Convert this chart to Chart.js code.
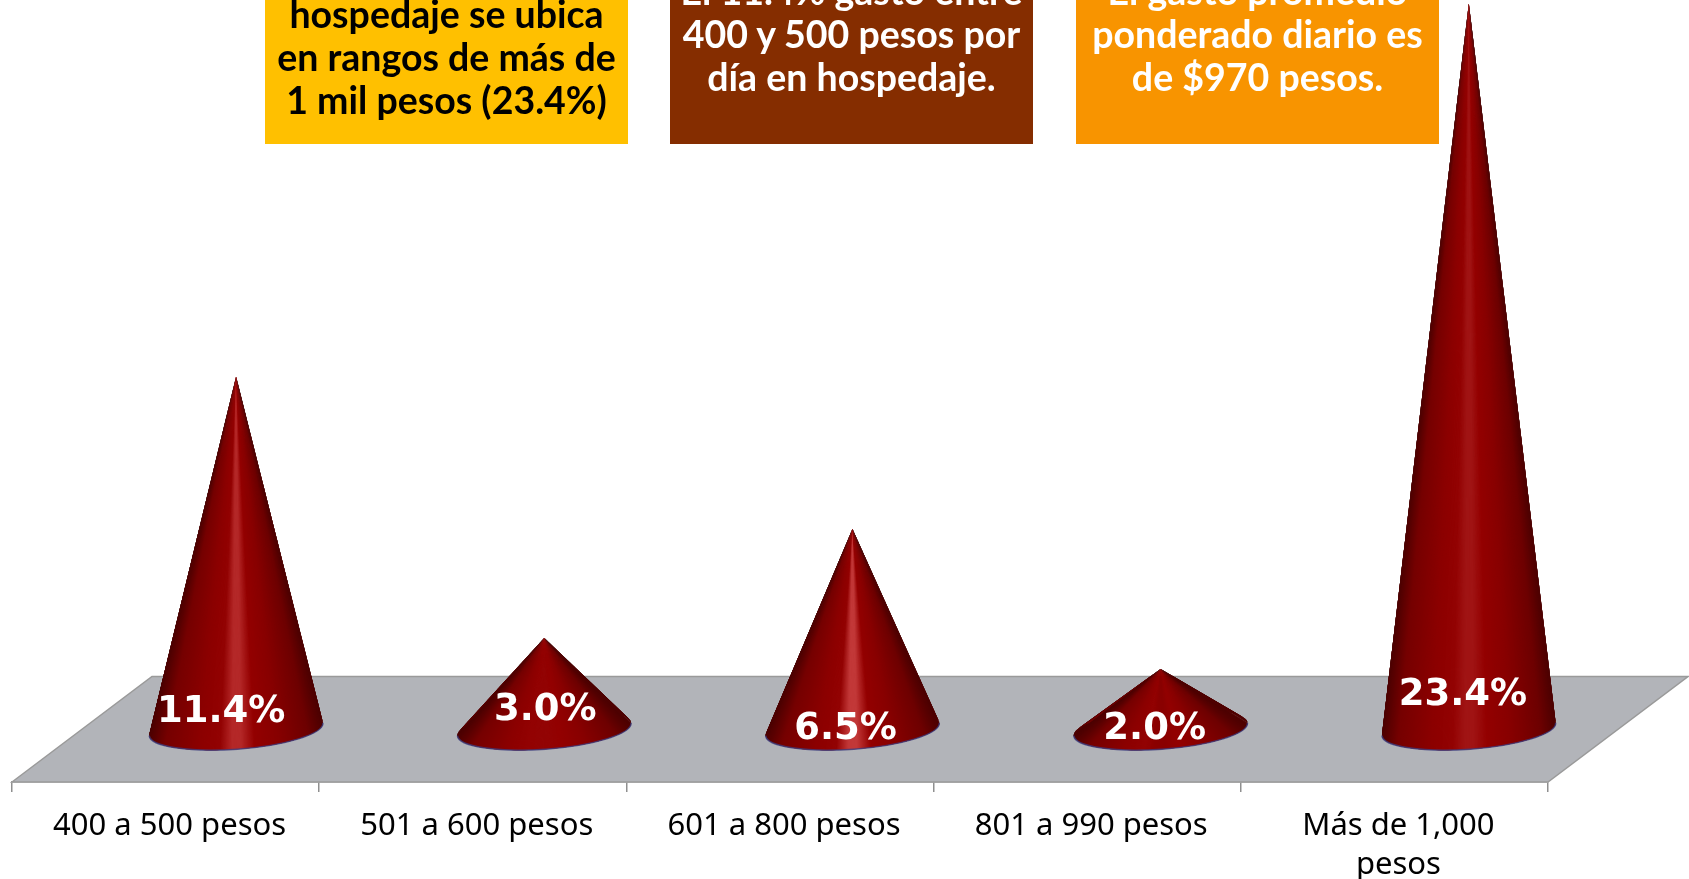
<!DOCTYPE html>
<html>
<head>
<meta charset="utf-8">
<script src="https://cdn.jsdelivr.net/npm/chart.js@4"></script>
<style>
  html, body { margin: 0; padding: 0; background: #fff; overflow: hidden; }
  #wrap { position: relative; width: 1689px; height: 879px; overflow: hidden; }
  canvas { position: absolute; left: 0; top: 0; }
  .note {
    position: absolute; width: 363px;
    font: bold 37.5px/43px Lato, sans-serif; text-align: center; white-space: nowrap;
  }
  .note span { display: block; }
</style>
</head>
<body>
<div id="wrap">
  <canvas id="chart" width="1689" height="879"></canvas>
  <div class="note" style="left:265px;background:#FFC000;color:#000;top:-8px;height:152px"><span>hospedaje se ubica</span><span>en rangos de más de</span><span>1 mil pesos (23.4%)</span></div>
  <div class="note" style="left:670px;background:#852D00;color:#fff;top:-31px;height:175px"><span>El 11.4% gasto entre</span><span>400 y 500 pesos por</span><span>día en hospedaje.</span></div>
  <div class="note" style="left:1076px;background:#F89400;color:#fff;top:-31px;height:175px"><span>El gasto promedio</span><span>ponderado diario es</span><span>de $970 pesos.</span></div>
</div>
<script>
const categories = ['400 a 500 pesos', '501 a 600 pesos', '601 a 800 pesos', '801 a 990 pesos', ['Más de 1,000', 'pesos']];
const percentValues = [11.4, 3.0, 6.5, 2.0, 23.4];

// floor depth of the fake 3D plane
const depthX = 140;
const depthY = 105.5;
const tilt = -4.2 * Math.PI / 180;
const baseRy = 20;
const apexDrop = 2;
// cones sit a bit wider apart than the ticks, the original has some perspective
const spread = 1.0032;
// how strong the shine on each cone is
const shine = ['#b42828', '#930404', '#c23838', '#8a0000', '#a01414'];
// nudge for the value labels, they are not centred in the original
const labelNudgeX = [-15, 1, -7, -6, -6];
const labelNudgeY = [-17, -19, 0, 0, -34];

function hexToRgb(hex) {
  return [1, 3, 5].map(i => parseInt(hex.slice(i, i + 2), 16));
}

function coneColor(u, shineHex) {
  const stops = [
    [0, '#4c0000'], [0.1, '#760000'], [0.3, '#8c0000'], [0.42, '#930303'],
    [0.49, shineHex], [0.54, shineHex], [0.62, '#930000'], [0.75, '#880000'], [0.92, '#6e0000'], [1, '#4e0000']
  ];
  let k = 0;
  while (k < stops.length - 2 && u > stops[k + 1][0]) k++;
  const a = stops[k], b = stops[k + 1];
  const f = Math.min(1, Math.max(0, (u - a[0]) / (b[0] - a[0])));
  const ca = hexToRgb(a[1]), cb = hexToRgb(b[1]);
  return 'rgb(' + ca.map((v, i) => Math.round(v + (cb[i] - v) * f)).join(',') + ')';
}

function drawCone(ctx, apexX, apexY, cx, cy, rx, shineHex) {
  const pt = t => [
    cx + rx * Math.cos(t) * Math.cos(tilt) - baseRy * Math.sin(t) * Math.sin(tilt),
    cy + rx * Math.cos(t) * Math.sin(tilt) + baseRy * Math.sin(t) * Math.cos(tilt)
  ];
  const steps = 240;
  const step = Math.PI / steps;
  // back half first, then the front half left to right. Each slice overlaps the last so no seams show
  for (let pass = 0; pass < 2; pass++) {
    for (let i = 0; i < steps; i++) {
      const t0 = pass === 0 ? -Math.PI + i * step : Math.PI - i * step;
      const t1 = pass === 0 ? t0 + step : t0 - step;
      const back = pass === 0 ? t0 - 2 * step : t0 + 2 * step;
      const p0 = pt(back), p1 = pt(t1);
      const mid = pt((t0 + t1) / 2);
      ctx.fillStyle = coneColor((mid[0] - (cx - rx)) / (2 * rx), shineHex);
      ctx.beginPath();
      ctx.moveTo(apexX, apexY);
      ctx.lineTo(p0[0], p0[1]);
      ctx.lineTo(p1[0], p1[1]);
      ctx.closePath();
      ctx.fill();
    }
  }
  // thin bluish rim along the front of the base
  ctx.beginPath();
  ctx.ellipse(cx, cy, rx, baseRy, tilt, 0, Math.PI);
  ctx.strokeStyle = 'rgba(60,60,125,0.8)';
  ctx.lineWidth = 1.5;
  ctx.stroke();
}

const floorPlugin = {
  id: 'floor',
  beforeDatasetsDraw(chart) {
    const ctx = chart.ctx, a = chart.chartArea;
    ctx.save();
    ctx.beginPath();
    ctx.moveTo(a.left, a.bottom);
    ctx.lineTo(a.left + depthX, a.bottom - depthY);
    ctx.lineTo(a.right + depthX, a.bottom - depthY);
    ctx.lineTo(a.right, a.bottom);
    ctx.closePath();
    ctx.fillStyle = '#b2b4b9';
    ctx.fill();
    ctx.strokeStyle = '#9a9a9a';
    ctx.lineWidth = 1.5;
    ctx.stroke();
    ctx.restore();
  }
};

const conePlugin = {
  id: 'cones',
  afterDatasetsDraw(chart) {
    const ctx = chart.ctx;
    const left = chart.chartArea.left;
    const bars = chart.getDatasetMeta(0).data;
    const coneX = x => left + (x - left) * spread + depthX / 2;
    ctx.save();
    bars.forEach((bar, i) => {
      const p = bar.getProps(['x', 'y', 'base', 'width'], true);
      const cx = coneX(p.x);
      drawCone(ctx, cx, p.y - depthY / 2 + apexDrop, cx, p.base - depthY / 2, p.width / 2, shine[i]);
    });
    ctx.fillStyle = '#fff';
    ctx.font = 'bold 37px "DejaVu Sans"';
    ctx.textAlign = 'center';
    ctx.textBaseline = 'middle';
    bars.forEach((bar, i) => {
      const p = bar.getProps(['x', 'base'], true);
      ctx.fillText(percentValues[i].toFixed(1) + '%', coneX(p.x) + labelNudgeX[i], p.base - depthY / 2 + labelNudgeY[i]);
    });
    ctx.restore();
  }
};

new Chart(document.getElementById('chart'), {
  type: 'bar',
  data: {
    labels: categories,
    datasets: [{
      data: percentValues,
      backgroundColor: 'transparent',
      borderWidth: 0,
      categoryPercentage: 1,
      barPercentage: 0.567
    }]
  },
  options: {
    responsive: false,
    animation: false,
    layout: { padding: { left: 12, right: 141, top: 4.5, bottom: 0 } },
    plugins: { legend: { display: false }, tooltip: { enabled: false } },
    scales: {
      x: {
        offset: true,
        afterFit(scale) { scale.height = 97; },
        grid: { offset: true, drawOnChartArea: false, drawTicks: true, tickLength: 10, color: '#8f8f8f', lineWidth: 1.5 },
        border: { color: '#9a9a9a', width: 1.5 },
        ticks: {
          color: '#000',
          padding: 15,
          maxRotation: 0,
          autoSkip: false,
          labelOffset: 4,
          font: { family: '"Noto Sans"', size: 31, lineHeight: 1.25 }
        }
      },
      y: { display: false, min: 0, max: 25 }
    }
  },
  plugins: [floorPlugin, conePlugin]
});
</script>
</body>
</html>
